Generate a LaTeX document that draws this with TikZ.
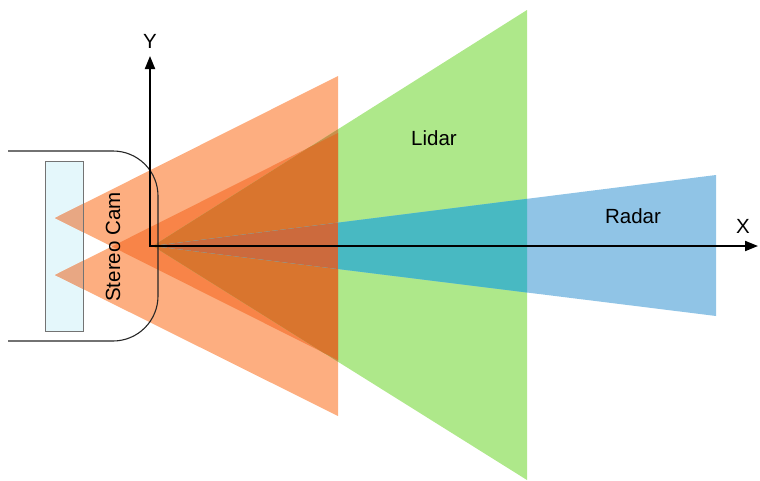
\documentclass[tikz,border=0pt]{standalone}
\usepackage{fontspec}
\setmainfont{Liberation Sans}
\usetikzlibrary{arrows.meta}
\definecolor{camL}{HTML}{FDAE80}
\definecolor{camW}{HTML}{E8A783}
\definecolor{camO}{HTML}{F88448}
\definecolor{camS}{HTML}{C8904C}
\definecolor{camD}{HTML}{D9752E}
\definecolor{camR}{HTML}{CC6A3D}
\definecolor{lidarC}{HTML}{AEE88A}
\definecolor{radarC}{HTML}{90C4E6}
\definecolor{tealC}{HTML}{48B9C2}
\definecolor{glassC}{HTML}{E4F7FB}
\tikzset{
  lbl/.style={font=\fontsize{20.5}{24}\selectfont, inner sep=0pt},
  axisline/.style={line width=2pt, {Triangle[length=13pt,width=10pt]}-{Triangle[length=13pt,width=10pt]}},
  carline/.style={line width=1.1pt, draw=black!85},
  glass/.style={fill=glassC, draw=black!60, line width=0.8pt}
}
\begin{document}
\begin{tikzpicture}[x=1pt,y=-1pt]
\useasboundingbox (0,0) rectangle (760,480);
% key points
\coordinate (o) at (150,246);
\coordinate (yt) at (150,56);
\coordinate (xt) at (758,246);
\coordinate (a1) at (55,218);
\coordinate (t1) at (338,76);
\coordinate (b1) at (338,360);
\coordinate (a2) at (55,275);
\coordinate (t2) at (338,133);
\coordinate (b2) at (338,416);
\coordinate (l0) at (153,246);
\coordinate (lt) at (527,10);
\coordinate (lb) at (527,480);
\coordinate (r0) at (153,246);
\coordinate (rt) at (716,175);
\coordinate (rb) at (716,316);
\coordinate (w1) at (45,161);
\coordinate (w2) at (83,331);
% windshield
\draw[glass] (w1) rectangle (w2);
% camera fans
\fill[camL] (a1) -- (t1) -- (b1) -- cycle;
\fill[camL] (a2) -- (t2) -- (b2) -- cycle;
\begin{scope}
  \clip (w1) rectangle (w2);
  \fill[camW] (a1) -- (t1) -- (b1) -- cycle;
  \fill[camW] (a2) -- (t2) -- (b2) -- cycle;
\end{scope}
\begin{scope}
  \clip (a1) -- (t1) -- (b1) -- cycle;
  \fill[camO] (a2) -- (t2) -- (b2) -- cycle;
\end{scope}
% lidar
\fill[lidarC] (l0) -- (lt) -- (lb) -- cycle;
\begin{scope}
  \clip (l0) -- (lt) -- (lb) -- cycle;
  \fill[camS] (a1) -- (t1) -- (b1) -- cycle;
  \fill[camS] (a2) -- (t2) -- (b2) -- cycle;
  \clip (a1) -- (t1) -- (b1) -- cycle;
  \fill[camD] (a2) -- (t2) -- (b2) -- cycle;
\end{scope}
% radar
\fill[radarC] (r0) -- (rt) -- (rb) -- cycle;
\begin{scope}
  \clip (r0) -- (rt) -- (rb) -- cycle;
  \fill[tealC] (l0) -- (lt) -- (lb) -- cycle;
  \clip (a1) -- (t1) -- (b1) -- cycle;
  \fill[camR] (a2) -- (t2) -- (b2) -- cycle;
\end{scope}
% windshield border over fans
\draw[draw=black!55, line width=0.8pt] (w1) rectangle (w2);
% car outline
\coordinate (c1) at (8,151);
\coordinate (c2) at (158,151);
\coordinate (c3) at (158,341);
\coordinate (c4) at (8,341);
\draw[carline, rounded corners=45pt] (c1) -- (c2) -- (c3) -- (c4);
% axes
\draw[axisline] (yt) -- (o) -- (xt);
% labels
\node[lbl] (ylab) at (150,41) {Y};
\node[lbl] (xlab) at (743,226) {X};
\node[lbl] (lidar) at (434,138) {Lidar};
\node[lbl] (radar) at (633,216) {Radar};
\node[lbl, rotate=90] (cam) at (113,247) {Stereo Cam};
\end{tikzpicture}
\end{document}
